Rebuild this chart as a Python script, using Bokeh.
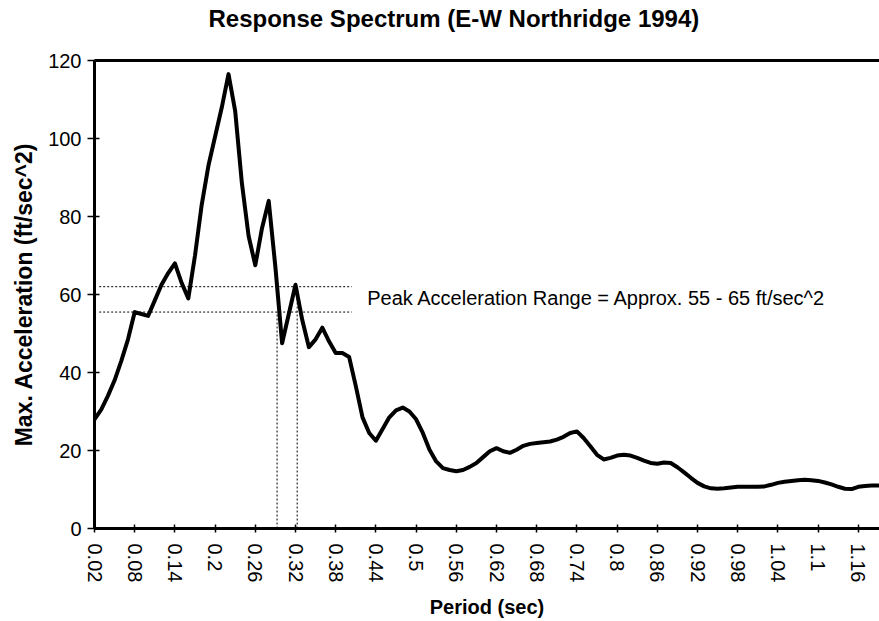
from bokeh.plotting import figure
from bokeh.models import Label, FixedTicker, LinearAxis
from bokeh.embed import file_html
from bokeh.resources import INLINE

# ---- data ----
period = [0.02, 0.03, 0.04, 0.05, 0.06, 0.07, 0.08, 0.09, 0.10, 0.11,
          0.12, 0.13, 0.14, 0.15, 0.16, 0.17, 0.18, 0.19, 0.20, 0.21,
          0.22, 0.23, 0.24, 0.25, 0.26, 0.27, 0.28, 0.29, 0.30, 0.31,
          0.32, 0.33, 0.34, 0.35, 0.36, 0.37, 0.38, 0.39, 0.40, 0.41,
          0.42, 0.43, 0.44, 0.45, 0.46, 0.47, 0.48, 0.49, 0.50, 0.51,
          0.52, 0.53, 0.54, 0.55, 0.56, 0.57, 0.58, 0.59, 0.60, 0.61,
          0.62, 0.63, 0.64, 0.65, 0.66, 0.67, 0.68, 0.69, 0.70, 0.71,
          0.72, 0.73, 0.74, 0.75, 0.76, 0.77, 0.78, 0.79, 0.80, 0.81,
          0.82, 0.83, 0.84, 0.85, 0.86, 0.87, 0.88, 0.89, 0.90, 0.91,
          0.92, 0.93, 0.94, 0.95, 0.96, 0.97, 0.98, 0.99, 1.00, 1.01,
          1.02, 1.03, 1.04, 1.05, 1.06, 1.07, 1.08, 1.09, 1.10, 1.11,
          1.12, 1.13, 1.14, 1.15, 1.16, 1.17, 1.18, 1.19]
accel = [28, 30.5, 34, 38, 43, 48.5, 55.5, 55, 54.5, 58.5,
         62.5, 65.5, 68, 63, 59, 70, 83, 93, 100.5, 108,
         116.5, 107, 88.5, 75, 67.5, 77, 84, 67, 47.5, 55,
         62.5, 53.5, 46.5, 48.5, 51.5, 48, 45, 45, 44, 36.5,
         28.5, 24.5, 22.5, 25.5, 28.5, 30.3, 31, 30, 28, 24.5,
         20.2, 17.2, 15.5, 15, 14.7, 15, 15.8, 16.8, 18.3, 19.8,
         20.6, 19.8, 19.4, 20.2, 21.2, 21.7, 21.9, 22.1, 22.3, 22.8,
         23.5, 24.5, 24.9, 23.2, 21.1, 18.9, 17.7, 18.1, 18.7, 18.9,
         18.7, 18.1, 17.4, 16.8, 16.6, 16.9, 16.8, 15.7, 14.4, 13,
         11.7, 10.8, 10.3, 10.2, 10.3, 10.5, 10.7, 10.7, 10.7, 10.7,
         10.8, 11.2, 11.7, 12, 12.2, 12.4, 12.5, 12.4, 12.2, 11.8,
         11.3, 10.7, 10.2, 10.1, 10.7, 10.9, 11, 11]

x_tick_labels = ["0.02", "0.08", "0.14", "0.2", "0.26", "0.32", "0.38",
                 "0.44", "0.5", "0.56", "0.62", "0.68", "0.74", "0.8",
                 "0.86", "0.92", "0.98", "1.04", "1.1", "1.16"]
y_ticks = [0, 20, 40, 60, 80, 100, 120]

# peak acceleration range markers
range_levels = [55.5, 62]
range_x_extent = [0.027, 0.404]
range_periods = [0.2925, 0.3225]
note_text = "Peak Acceleration Range = Approx. 55 - 65 ft/sec^2"

FONT = "Liberation Sans"

p = figure(width=879, height=621, output_backend="svg", toolbar_location=None,
           x_range=(0.02, 1.1916), y_range=(0, 120),
           min_border_left=94, min_border_right=0, min_border_top=60,
           min_border_bottom=92,
           title="Response Spectrum (E-W Northridge 1994)")

p.title.text_font = FONT
p.title.text_font_size = "24px"
p.title.text_font_style = "bold"
p.title.text_color = "black"
p.title.align = "left"
p.title.offset = 114
p.title.vertical_align = "bottom"
p.title.standoff = 0
try:
    p.title.padding = dict(left=0, right=0, top=0, bottom=29)
except Exception:
    p.title.standoff = 30

p.outline_line_color = None
p.xgrid.visible = False
p.ygrid.visible = False
p.background_fill_color = "white"
p.border_fill_color = "white"

x_ticks = [float(s) for s in x_tick_labels]
p.xaxis.ticker = FixedTicker(ticks=x_ticks)
p.xaxis.major_label_overrides = {t: s for t, s in zip(x_ticks, x_tick_labels)}
p.xaxis.major_label_orientation = "vertical"
p.yaxis.ticker = FixedTicker(ticks=y_ticks)

for ax in (p.xaxis[0], p.yaxis[0]):
    ax.axis_line_width = 3
    ax.axis_line_color = "black"
    ax.major_tick_line_width = 1.5
    ax.major_tick_line_color = "black"
    ax.minor_tick_line_color = None
    ax.major_label_text_font = FONT
    ax.major_label_text_font_size = "20px"
    ax.major_label_text_color = "black"
    ax.axis_label_text_font = FONT
    ax.axis_label_text_font_style = "bold"
    ax.axis_label_text_color = "black"

p.xaxis.major_tick_in = 4
p.xaxis.major_tick_out = 4
p.xaxis.major_label_standoff = 11
p.xaxis.axis_label = "Period (sec)"
p.xaxis.axis_label_text_font_size = "20px"
p.xaxis.axis_label_standoff = 11

p.yaxis.major_tick_in = 5
p.yaxis.major_tick_out = 7
p.yaxis.major_label_standoff = 6
p.yaxis.axis_label = "Max. Acceleration (ft/sec^2)"
p.yaxis.axis_label_text_font_size = "23px"
p.yaxis.axis_label_standoff = 8

# top border: a bare axis line along the top of the plot area
top_axis = LinearAxis(ticker=FixedTicker(ticks=[]), axis_line_width=3,
                      axis_line_color="black", major_tick_line_color=None,
                      minor_tick_line_color=None, major_tick_in=0,
                      major_tick_out=0, minor_tick_out=0, minor_tick_in=0)
p.add_layout(top_axis, "above")

# dotted range lines
for lvl in range_levels:
    p.line(range_x_extent, [lvl, lvl], line_color="black", line_width=1, line_dash="2 2")
p.line([range_periods[0]] * 2, [0, range_levels[0]], line_color="black",
       line_width=1, line_dash="2 2")
p.line([range_periods[1]] * 2, [0, range_levels[1]], line_color="black",
       line_width=1, line_dash="2 2")

# spectrum curve
p.line(period, accel, line_color="black", line_width=4, line_join="round", line_cap="round")

p.add_layout(Label(x=0.427, y=59, text=note_text, text_font=FONT,
                   text_font_size="20px", text_baseline="middle", text_color="black"))

open("out.html", "w").write(file_html(p, INLINE))
